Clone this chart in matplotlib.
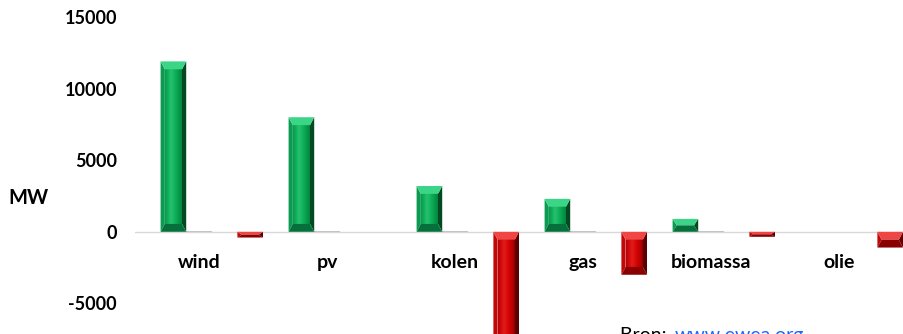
import numpy as np
import matplotlib
matplotlib.use("Agg")
import matplotlib.pyplot as plt
from matplotlib.patches import Polygon
from matplotlib.colors import LinearSegmentedColormap

plt.rcParams['font.family'] = ['Lato', 'DejaVu Sans']

# capacity change per source (MW)
categories = ['wind', 'pv', 'kolen', 'gas', 'biomassa', 'olie']
installed = [11900, 8000, 3200, 2300, 900, 0]
other = [70, 70, 70, 70, 70, 0]
decommissioned = [-400, 0, -8000, -3000, -350, -1100]

green = dict(face=['#079a4a', '#22c46e', '#0aa653', '#03803b'],
             top='#3bd587', bottom='#05703a', left='#0b9a50', right='#024a22')
red = dict(face=['#b80000', '#e61a1a', '#cc0000', '#9a0000'],
           top='#f04545', bottom='#8a0000', left='#c00808', right='#5a0000')


def bevel_bar(ax, bar, style, bx=0.033, by=550):
    x0, w = bar.get_x(), bar.get_width()
    y0, h = bar.get_y(), bar.get_height()
    if h == 0:
        return
    lo, hi = min(y0, y0 + h), max(y0, y0 + h)
    dy = min(by, (hi - lo) / 2)
    dx = min(bx, w / 2)
    x1 = x0 + w
    sides = [
        ([(x0, lo), (x0, hi), (x0 + dx, hi - dy), (x0 + dx, lo + dy)], style['left']),
        ([(x1, lo), (x1, hi), (x1 - dx, hi - dy), (x1 - dx, lo + dy)], style['right']),
        ([(x0, hi), (x1, hi), (x1 - dx, hi - dy), (x0 + dx, hi - dy)], style['top']),
        ([(x0, lo), (x1, lo), (x1 - dx, lo + dy), (x0 + dx, lo + dy)], style['bottom']),
    ]
    for pts, c in sides:
        ax.add_patch(Polygon(pts, closed=True, facecolor=c, edgecolor='none', zorder=4))
    cmap = LinearSegmentedColormap.from_list('f', style['face'])
    grad = np.linspace(0, 1, 64).reshape(1, -1)
    if hi - dy > lo + dy:
        ax.imshow(grad, cmap=cmap, extent=(x0 + dx, x1 - dx, lo + dy, hi - dy),
                  aspect='auto', interpolation='bicubic', zorder=3)
    bar.set_visible(False)


fig = plt.figure(figsize=(9.04, 3.34), dpi=100)
ax = fig.add_axes([135 / 904, -41 / 334, 768 / 904, 358 / 334])

x = np.arange(len(categories))
w = 0.2
bars_g = ax.bar(x - 0.2, installed, w, color=green['face'][2], zorder=3)
ax.bar(x, other, w, color='#c4c4c4', zorder=2)
bars_r = ax.bar(x + 0.4, decommissioned, w, color=red['face'][2], zorder=3)

for b in bars_g:
    bevel_bar(ax, b, green)
for b in bars_r:
    bevel_bar(ax, b, red)

ax.axhline(0, color='#d9d9d9', lw=1, zorder=1)

ax.set_xlim(-0.5, len(categories) - 0.5)
ax.set_ylim(-10000, 15000)
ax.set_yticks([-5000, 0, 5000, 10000, 15000])
ax.set_yticklabels(['-5000', '0', '5000', '10000', '15000'])
ax.tick_params(axis='y', length=0, pad=13, labelsize=13)
for t in ax.get_yticklabels():
    t.set_fontweight('bold')
ax.set_xticks([])
for s in ax.spines.values():
    s.set_visible(False)
ax.patch.set_alpha(0)

for i, cat in enumerate(categories):
    ax.annotate(cat, (i, 0), xytext=(0, -31), textcoords='offset pixels',
                ha='center', va='center', fontsize=14, fontweight='bold')

fig.text(8 / 904, 1 - 198 / 334, 'MW', ha='left', va='center',
         fontsize=14.5, fontweight='bold')
fig.text(620 / 904, -7 / 334, 'Bron: ', ha='left', va='baseline', fontsize=14)
fig.text(675 / 904, -7 / 334, 'www.ewea.org', ha='left', va='baseline',
         fontsize=14, color='#1e64ff')

fig.savefig('out.png', dpi=100)
